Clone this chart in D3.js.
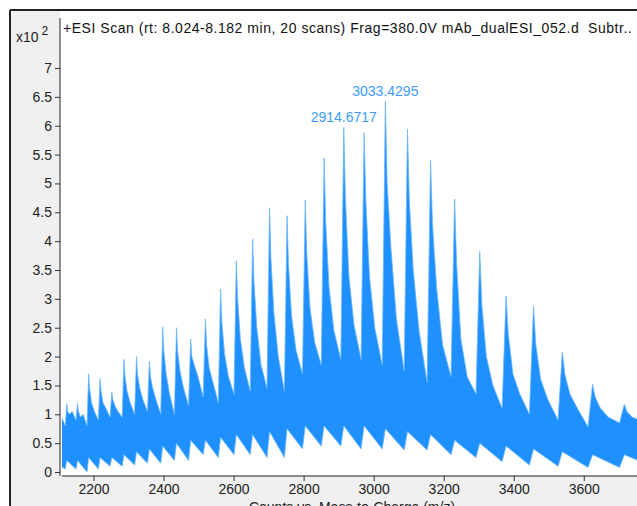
<!DOCTYPE html>
<html lang="en">
<head>
<meta charset="utf-8">
<script src="https://cdn.jsdelivr.net/npm/d3@7"></script>
<style>
    body { margin: 0; background: #fff; }
    svg { display: block; font-family: "Liberation Sans", Arial, sans-serif; }
</style>
</head>
<body>
<script>
    // charge-state envelope of the antibody, z = 71 .. 40 (counts in units of 10^2)
    let peakMz    = [2093.80, 2123.71, 2154.47, 2186.14, 2218.75, 2252.35, 2286.99, 2322.71,
                     2359.56, 2397.60, 2436.89, 2477.49, 2519.46, 2562.88, 2607.83, 2654.38,
                     2702.62, 2752.65, 2804.57, 2858.49, 2914.67, 2972.78, 3033.43, 3096.61,
                     3162.47, 3231.20, 3302.98, 3378.03, 3456.56, 3538.84, 3625.13, 3715.72];
    let peakTop   = [1.05, 1.18, 1.18, 1.70, 1.62, 1.38, 1.95, 2.00,
                     1.92, 2.52, 2.50, 2.30, 2.65, 3.17, 3.66, 4.04,
                     4.58, 4.44, 4.71, 5.44, 5.97, 5.88, 6.42, 5.94,
                     5.40, 4.73, 3.82, 3.05, 2.87, 2.08, 1.52, 1.17];
    let tailNear  = [0.95, 1.05, 1.05, 1.45, 1.40, 1.25, 1.65, 1.70,
                     1.65, 2.10, 2.10, 2.00, 2.20, 2.60, 3.00, 3.30,
                     3.70, 3.60, 3.80, 4.35, 4.75, 4.70, 5.00, 4.70,
                     4.30, 3.60, 2.90, 2.40, 2.20, 1.70, 1.30, 1.05];
    let tailMid   = [0.95, 1.00, 0.95, 1.20, 1.20, 1.15, 1.40, 1.45,
                     1.45, 1.70, 1.75, 1.85, 1.80, 2.05, 2.30, 2.50,
                     2.75, 2.70, 2.85, 3.20, 3.40, 3.40, 3.90, 3.50,
                     3.20, 2.30, 2.00, 1.70, 1.60, 1.35, 1.10, 0.95];
    let tailFar   = [0.95, 1.05, 1.00, 1.05, 1.10, 1.05, 1.20, 1.25,
                     1.25, 1.35, 1.45, 1.65, 1.55, 1.65, 1.80, 1.85,
                     2.00, 2.10, 2.25, 2.45, 2.55, 2.50, 2.65, 2.45,
                     2.20, 1.65, 1.50, 1.35, 1.25, 1.10, 0.95, 0.90];
    let valleyTop = [0.80, 0.90, 0.80, 0.90, 0.95, 0.95, 1.00, 1.05,
                     1.00, 1.00, 1.15, 1.30, 1.20, 1.35, 1.40, 1.45,
                     1.40, 1.70, 1.85, 1.95, 1.95, 1.85, 1.75, 1.55,
                     1.65, 1.35, 1.10, 1.00, 0.90, 0.78, 0.85, 0.80];
    let peakLow   = [0.15, 0.20, 0.20, 0.25, 0.25, 0.25, 0.30, 0.35,
                     0.40, 0.45, 0.50, 0.55, 0.55, 0.60, 0.65, 0.65,
                     0.70, 0.75, 0.80, 0.80, 0.80, 0.80, 0.75, 0.70,
                     0.65, 0.55, 0.50, 0.45, 0.40, 0.35, 0.30, 0.30];
    let valleyLow = [0.05, 0.05, 0.00, 0.05, 0.10, 0.10, 0.12, 0.15,
                     0.15, 0.20, 0.20, 0.30, 0.25, 0.30, 0.30, 0.25,
                     0.25, 0.40, 0.45, 0.45, 0.40, 0.40, 0.38, 0.38,
                     0.30, 0.25, 0.18, 0.12, 0.10, 0.08, 0.08, 0.10];

    let labelMz   = [2914.6717, 3033.4295];
    let labelText = ["2914.6717", "3033.4295"];

    let xTicks = [2200, 2400, 2600, 2800, 3000, 3200, 3400, 3600];
    let yTicks = [0, 0.5, 1, 1.5, 2, 2.5, 3, 3.5, 4, 4.5, 5, 5.5, 6, 6.5, 7];

    let titleText = "+ESI Scan (rt: 8.024-8.182 min, 20 scans) Frag=380.0V mAb_dualESI_052.d  Subtr..";

    let w = 637;
    let h = 506;
    let axisX = 60;
    let axisY = 476;
    let fontFam = "Liberation Sans, Arial, sans-serif";

    let svg = d3.select("body")
                .append("svg")
                .attr("width", w)
                .attr("height", h);

    // panel backgrounds and frame
    svg.append("rect").attr("x", 10).attr("y", 10).attr("width", w - 10).attr("height", h - 10).attr("fill", "#f0f0f0");
    svg.append("rect").attr("x", axisX).attr("y", 11).attr("width", w - axisX).attr("height", axisY - 11).attr("fill", "#fff");
    svg.append("line").attr("x1", 10).attr("x2", w).attr("y1", 10).attr("y2", 10).attr("stroke", "#222").attr("stroke-width", 2);
    svg.append("line").attr("x1", 10).attr("x2", 10).attr("y1", 10).attr("y2", h).attr("stroke", "#222").attr("stroke-width", 2);

    let xScale = d3.scaleLinear().domain([2110, 3752]).range([62, 637]);
    let yScale = d3.scaleLinear().domain([0, 7]).range([472, 68]);

    // band between the upper and lower envelope of the spectrum
    let upper = [];
    let lower = [];
    for (let i = 0; i < peakMz.length; i++) {
        let gap = i < peakMz.length - 1 ? peakMz[i + 1] - peakMz[i] : peakMz[i] - peakMz[i - 1];
        upper.push([peakMz[i], peakTop[i]]);
        upper.push([peakMz[i] + gap * 0.08, tailNear[i]]);
        upper.push([peakMz[i] + gap * 0.25, tailMid[i]]);
        upper.push([peakMz[i] + gap * 0.50, tailFar[i]]);
        upper.push([peakMz[i] + gap * 0.85, valleyTop[i]]);
        lower.push([peakMz[i], peakLow[i]]);
        lower.push([peakMz[i] + gap * 0.85, valleyLow[i]]);
    }
    let band = upper.concat(lower.slice().reverse());

    let line = d3.line()
                 .x((d) => xScale(d[0]))
                 .y((d) => yScale(d[1]));

    svg.append("clipPath").attr("id", "plot-clip")
       .append("rect").attr("x", 62).attr("y", 11).attr("width", w - 62).attr("height", axisY - 13);

    let plot = svg.append("g").attr("clip-path", "url(#plot-clip)");

    plot.append("path")
        .attr("d", line(band) + "Z")
        .attr("fill", "#1e90ff")
        .attr("stroke", "#6cb6ff")
        .attr("stroke-width", 0.8);

    // peak annotations
    svg.selectAll("text.peak-label")
       .data(labelMz)
       .enter()
       .append("text")
       .attr("class", "peak-label")
       .attr("x", (d) => xScale(d))
       .attr("y", (d) => yScale(peakTop[peakMz.findIndex((m) => Math.abs(m - d) < 1)]) - 5)
       .attr("text-anchor", "middle")
       .attr("font-size", "14px")
       .attr("fill", "#3d9bff")
       .text((d, i) => labelText[i]);

    // axes
    let xAxis = d3.axisBottom(xScale).tickValues(xTicks).tickSize(5).tickSizeOuter(0).tickFormat(d3.format("d"));
    let gx = svg.append("g")
                .attr("transform", "translate(0, " + axisY + ")")
                .call(xAxis);
    gx.select(".domain").attr("stroke", "#666").attr("stroke-width", 1.5).attr("d", "M62,0H" + w);
    gx.selectAll(".tick line").attr("stroke", "#333");
    gx.selectAll(".tick text").attr("font-size", "14px").attr("fill", "#222").attr("dy", "0.72em")
      .attr("font-family", fontFam);

    let yAxis = d3.axisLeft(yScale).tickValues(yTicks).tickSize(5).tickSizeOuter(0).tickFormat((d) => d3.format("")(d));
    let gy = svg.append("g")
                .attr("transform", "translate(" + axisX + ", 0)")
                .call(yAxis);
    gy.select(".domain").attr("stroke", "#222").attr("d", "M0,18V" + axisY);
    gy.selectAll(".tick line").attr("stroke", "#333");
    gy.selectAll(".tick text").attr("font-size", "14px").attr("fill", "#222")
      .attr("font-family", fontFam);

    svg.append("text")
       .attr("x", 352)
       .attr("y", 512)
       .attr("text-anchor", "middle")
       .attr("font-size", "14px")
       .attr("fill", "#222")
       .text("Counts vs. Mass-to-Charge (m/z)");

    svg.append("text")
       .attr("x", 63)
       .attr("y", 33)
       .attr("font-size", "14px")
       .attr("letter-spacing", "0.53px")
       .attr("fill", "#111")
       .style("white-space", "pre")
       .text(titleText);

    let mult = svg.append("text").attr("x", 16).attr("y", 42).attr("font-size", "14px").attr("fill", "#222");
    mult.append("tspan").text("x10");
    mult.append("tspan").attr("dx", 3).attr("dy", -7).attr("font-size", "12px").text("2");
</script>
</body>
</html>
